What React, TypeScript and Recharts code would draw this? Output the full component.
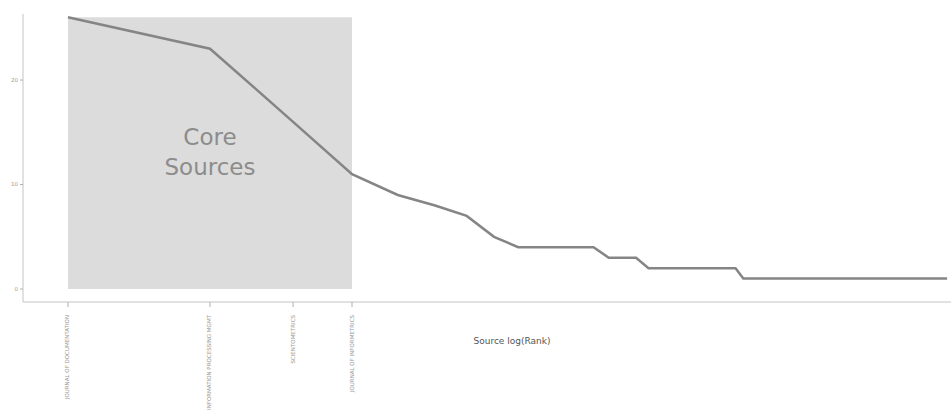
import { ComposedChart, Line, XAxis, YAxis, ReferenceArea } from 'recharts';

// core sources (zone 1), shown as x tick labels
const coreSources = [
  'JOURNAL OF DOCUMENTATION',
  'INFORMATION PROCESSING MGMT',
  'SCIENTOMETRICS',
  'JOURNAL OF INFORMETRICS',
];
const coreRanks = [1, 2, 3, 4];

// articles per source, sorted by rank
const freq = [
  26, 23, 16, 11, 9, 8, 7, 5, 4, 4, 4, 4, 4, 3, 3, 3,
  2, 2, 2, 2, 2, 2, 2, 2, 2, 2,
  1, 1, 1, 1, 1, 1, 1, 1, 1, 1, 1, 1, 1, 1, 1, 1,
  1, 1, 1, 1, 1, 1, 1, 1, 1, 1, 1, 1, 1, 1, 1, 1,
  1, 1, 1, 1, 1, 1, 1, 1, 1, 1, 1, 1, 1, 1, 1,
];
const yTicks = [0, 10, 20];

const data = freq.map((f, i) => ({ rank: i + 1, freq: f }));

function SourceTick(props: any) {
  const { x, y, payload } = props;
  const name = coreSources[coreRanks.indexOf(payload.value)] ?? '';
  return (
    <text
      x={x}
      y={y + 6}
      transform={`rotate(-90 ${x} ${y + 6})`}
      textAnchor="end"
      dominantBaseline="middle"
      fontSize={5.5}
      fill="#9a9a9a"
      fontFamily="DejaVu Sans"
    >
      {name}
    </text>
  );
}

function CoreLabel(props: any) {
  const vb = props.viewBox;
  const cx = vb.x + vb.width / 2;
  const cy = vb.y + vb.height / 2;
  return (
    <text textAnchor="middle" fontSize={23} fill="#8c8c8c" fontFamily="DejaVu Sans">
      <tspan x={cx} y={cy - 8}>Core</tspan>
      <tspan x={cx} y={cy + 22}>Sources</tspan>
    </text>
  );
}

export default function App() {
  return (
    <div style={{ position: 'fixed', left: 0, top: 0, width: 951, height: 417, overflow: 'hidden', background: '#fff' }}>
      <ComposedChart width={951} height={417} data={data} margin={{ top: 14, right: 0, bottom: 15, left: 0 }}>
        <XAxis
          dataKey="rank"
          type="number"
          scale="log"
          domain={[0.803, 74.4]}
          allowDataOverflow
          ticks={coreRanks}
          interval={0}
          height={100}
          tick={<SourceTick />}
          tickSize={5}
          stroke="#c4c4c4"
          tickLine={{ stroke: '#b0b0b0' }}
          label={{ value: 'Source log(Rank)', position: 'insideTop', offset: 36, dx: 25, fontSize: 9, fill: '#555', fontFamily: 'DejaVu Sans' }}
        />
        <YAxis
          type="number"
          domain={[-1.24, 26.32]}
          allowDataOverflow
          ticks={yTicks}
          width={23}
          tickSize={3}
          stroke="#c4c4c4"
          tickLine={{ stroke: '#b0b0b0' }}
          tick={{ fontSize: 5.5, fill: '#9a9a9a', fontFamily: 'DejaVu Sans' }}
        />
        <ReferenceArea
          x1={1}
          x2={4}
          y1={0}
          y2={26}
          fill="#dcdcdc"
          fillOpacity={1}
          stroke="none"
          ifOverflow="visible"
          label={<CoreLabel />}
        />
        <Line
          type="linear"
          dataKey="freq"
          stroke="#858585"
          strokeWidth={2.5}
          dot={false}
          isAnimationActive={false}
        />
      </ComposedChart>
    </div>
  );
}
